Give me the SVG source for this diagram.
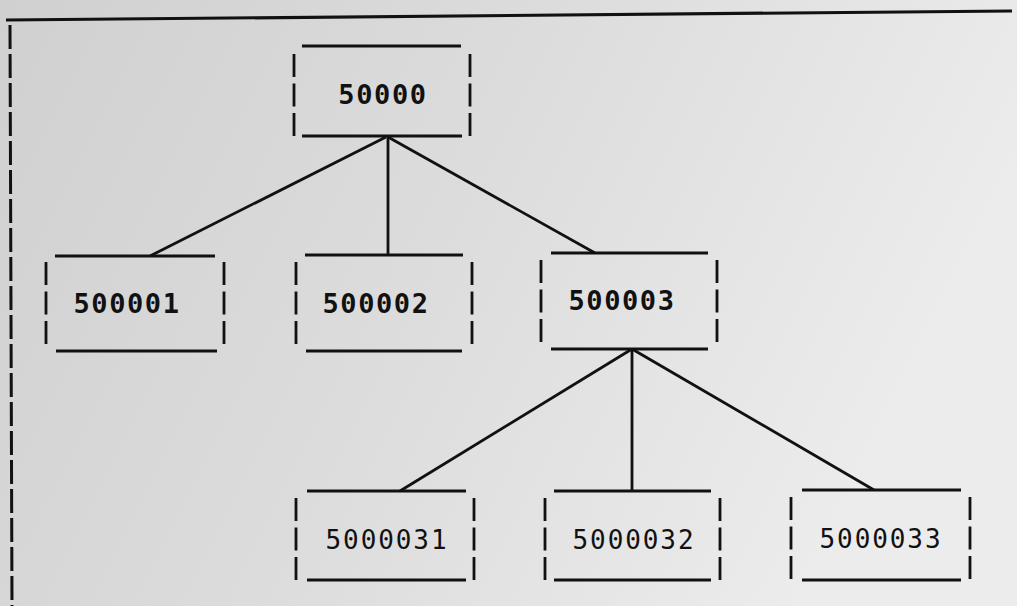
<svg xmlns="http://www.w3.org/2000/svg" width="1017" height="606" viewBox="0 0 1017 606">
<defs>
<linearGradient id="bg" x1="0" y1="0" x2="1" y2="0.3">
<stop offset="0" stop-color="#d0d0d0"/>
<stop offset="0.5" stop-color="#dcdcdc"/>
<stop offset="1" stop-color="#ececec"/>
</linearGradient>
</defs>
<style>
.ln{stroke:#111;stroke-width:3.2;fill:none;stroke-linecap:butt}
.bar{stroke:#111;stroke-width:2.8;fill:none;stroke-dasharray:23 6.5}
.edge{stroke:#111;stroke-width:2.8;fill:none}
.t1{font-family:"DejaVu Sans Mono","Liberation Mono",monospace;font-size:27px;font-weight:bold;fill:#111;letter-spacing:1.6px;text-anchor:middle}
.t2{font-family:"DejaVu Sans Mono","Liberation Mono",monospace;font-size:26px;fill:#111;letter-spacing:1.9px;text-anchor:middle}
</style>
<rect width="1017" height="606" fill="url(#bg)"/>
<g id="frame">
<line class="ln" x1="6" y1="20" x2="1012" y2="11"/>
<line class="bar" x1="10" y1="25" x2="12" y2="606" style="stroke-width:3;stroke-dasharray:24 5"/>
</g>
<g id="connectors">
<line class="edge" x1="386" y1="137" x2="150" y2="256"/>
<line class="edge" x1="388" y1="137" x2="388" y2="255"/>
<line class="edge" x1="388" y1="137" x2="595" y2="253"/>
<line class="edge" x1="632" y1="349" x2="400" y2="491"/>
<line class="edge" x1="632" y1="349" x2="632" y2="491"/>
<line class="edge" x1="632" y1="349" x2="874" y2="490"/>
</g>
<g id="n50000">
<line class="ln" x1="302" y1="46" x2="461" y2="46"/>
<line class="bar" x1="294" y1="54" x2="294" y2="137"/>
<line class="bar" x1="470" y1="54" x2="470" y2="137"/>
<line class="ln" x1="302" y1="136" x2="462" y2="136"/>
<text class="t1" x="383" y="104">50000</text>
</g>
<g id="n500001">
<line class="ln" x1="55" y1="256" x2="215" y2="256"/>
<line class="bar" x1="46" y1="262" x2="46" y2="347"/>
<line class="bar" x1="224" y1="262" x2="224" y2="347"/>
<line class="ln" x1="56" y1="351" x2="217" y2="351"/>
<text class="t1" x="127" y="313">500001</text>
</g>
<g id="n500002">
<line class="ln" x1="305" y1="255" x2="463" y2="255"/>
<line class="bar" x1="296" y1="262" x2="296" y2="347"/>
<line class="bar" x1="472" y1="262" x2="472" y2="347"/>
<line class="ln" x1="306" y1="351" x2="462" y2="351"/>
<text class="t1" x="376" y="313">500002</text>
</g>
<g id="n500003">
<line class="ln" x1="551" y1="253" x2="708" y2="253"/>
<line class="bar" x1="541" y1="260" x2="541" y2="345"/>
<line class="bar" x1="717" y1="260" x2="717" y2="345"/>
<line class="ln" x1="551" y1="349" x2="708" y2="349"/>
<text class="t1" x="622" y="310">500003</text>
</g>
<g id="n5000031">
<line class="ln" x1="307" y1="491" x2="466" y2="491"/>
<line class="bar" x1="296" y1="498" x2="296" y2="582"/>
<line class="bar" x1="474" y1="498" x2="474" y2="582"/>
<line class="ln" x1="307" y1="580" x2="466" y2="580"/>
<text class="t2" x="387" y="549">5000031</text>
</g>
<g id="n5000032">
<line class="ln" x1="554" y1="491" x2="711" y2="491"/>
<line class="bar" x1="545" y1="498" x2="545" y2="582"/>
<line class="bar" x1="720" y1="498" x2="720" y2="582"/>
<line class="ln" x1="554" y1="580" x2="711" y2="580"/>
<text class="t2" x="634" y="549">5000032</text>
</g>
<g id="n5000033">
<line class="ln" x1="802" y1="490" x2="961" y2="490"/>
<line class="bar" x1="791" y1="497" x2="791" y2="581"/>
<line class="bar" x1="970" y1="497" x2="970" y2="581"/>
<line class="ln" x1="802" y1="580" x2="961" y2="580"/>
<text class="t2" x="881" y="548">5000033</text>
</g>
</svg>
